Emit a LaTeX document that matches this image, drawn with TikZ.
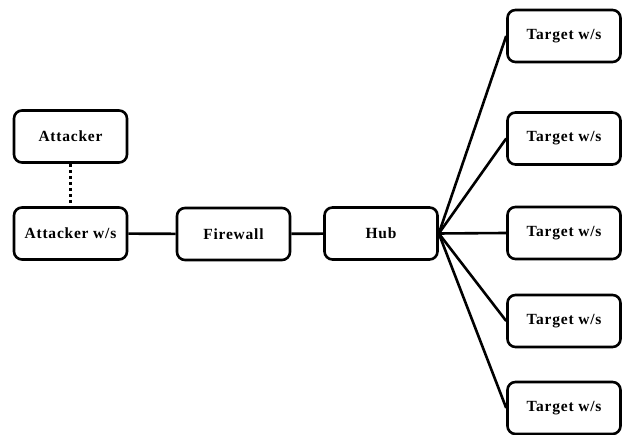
\documentclass[tikz,border=0pt]{standalone}
\usepackage{fontspec}
\setmainfont[LetterSpace=5]{Liberation Serif}
\usepackage{tikz}
\usetikzlibrary{shapes,arrows}
\tikzstyle{box} = [draw, line width=2.6pt, rounded corners=8pt, minimum width=113pt, minimum height=52pt, font=\fontsize{15.5}{18}\selectfont\bfseries, inner sep=0pt]
\tikzstyle{line} = [draw, line width=2.6pt]

\begin{document}
\begin{tikzpicture}[x=1pt,y=1pt]
            \useasboundingbox (0,0) rectangle (624,435);

            \node[box] (attacker) at (70.5, 298.5) {Attacker};
            \node[box] (attackerws) at (70.5, 201.5) {Attacker w/s};
            \node[box] (firewall) at (233.5, 201) {Firewall};
            \node[box] (hub) at (381, 201.5) {Hub};

            \node[box] (target1) at (564, 399) {Target w/s};
            \node[box] (target2) at (564, 296.5) {Target w/s};
            \node[box] (target3) at (564, 202) {Target w/s};
            \node[box] (target4) at (564, 114) {Target w/s};
            \node[box] (target5) at (564, 27) {Target w/s};

            \draw [line, dash pattern=on 3pt off 3pt] (attacker) -- (attackerws);
            \draw [line] (attackerws) -- (firewall);
            \draw [line] (firewall) -- (hub);
            \foreach \t in {1,...,5}
              \draw [line] (hub.east) -- (target\t.west);
          \end{tikzpicture}
\end{document}
